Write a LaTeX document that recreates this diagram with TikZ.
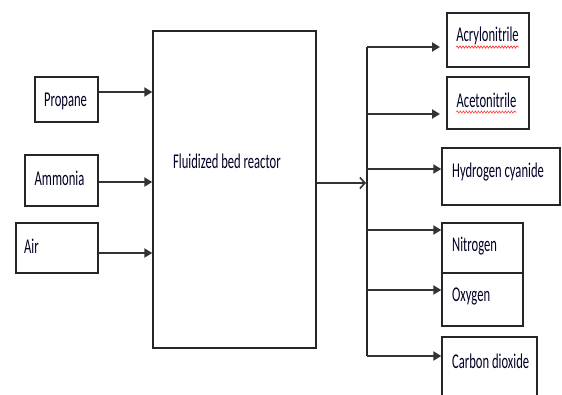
\documentclass[tikz,border=0pt]{standalone}
\usepackage{fontspec}
\newfontfamily\lab[FakeStretch=0.6]{Carlito}
\usetikzlibrary{arrows.meta,decorations.pathmorphing}
\tikzset{
  box/.style={draw=black!85, line width=1.4pt, inner sep=0pt, fill=white},
  txt/.style={inner sep=0pt, font=\lab\fontsize{21}{23}\selectfont, text=black!85!blue},
  arr/.style={draw=black!80, line width=2.6pt, -{Triangle[length=8pt,width=9pt]}},
  openarr/.style={draw=black!80, line width=1.6pt, -{Straight Barb[length=5pt,width=11pt,line width=1.6pt]}},
  bus/.style={draw=black!85, line width=1.6pt},
  squig/.style={draw=red!80, line width=0.6pt, decorate, decoration={snake, amplitude=1.1pt, segment length=3pt}}
}
\begin{document}
\begin{tikzpicture}[x=1pt,y=-1pt]
\useasboundingbox (0,0) rectangle (562,394);
\fill[white] (0,0) rectangle (562,394);
% input boxes
\node[box, minimum width=63pt, minimum height=45pt] (propane) at (66.5,99.5) {};
\node[box, minimum width=73pt, minimum height=51pt] (ammonia) at (61.5,180.5) {};
\node[box, minimum width=82pt, minimum height=50pt] (air) at (57,248) {};
\node[txt] (tpropane) at (65.5,101) {Propane};
\node[txt] (tammonia) at (59.5,178) {Ammonia};
\node[txt, anchor=west] (tair) at (24,246) {Air};
% reactor
\node[box, minimum width=163pt, minimum height=317pt] (reactor) at (234.5,189.5) {};
\node[txt, anchor=west] (treactor) at (173,161) {Fluidized bed reactor};
% input arrows
\draw[arr] (propane.east |- 0,92) -- (reactor.west |- 0,92);
\draw[arr] (ammonia.east |- 0,182) -- (reactor.west |- 0,182);
\draw[arr] (air.east |- 0,253) -- (reactor.west |- 0,253);
% output
\coordinate (bustop) at (367,47);
\coordinate (busbot) at (367,356);
\coordinate (busin) at (366,183);
\draw[openarr] (reactor.east |- 0,183) -- (busin);
\draw[bus] (bustop) -- (busbot);
% output boxes
\node[box, minimum width=82pt, minimum height=54pt] (acryl) at (488,40) {};
\node[box, minimum width=82pt, minimum height=52pt] (aceto) at (488,103) {};
\node[box, minimum width=118pt, minimum height=57pt] (hcn) at (501,176.5) {};
\node[box, minimum width=81pt, minimum height=50pt] (nitro) at (482.5,248) {};
\node[box, minimum width=81pt, minimum height=53pt] (oxy) at (482.5,299.5) {};
\node[box, minimum width=95pt, minimum height=70pt] (co2) at (489.5,372) {};
\node[txt] (tacryl) at (487.5,36) {Acrylonitrile};
\node[txt] (taceto) at (486.5,100) {Acetonitrile};
\node[txt, anchor=west] (thcn) at (452,172) {Hydrogen cyanide};
\node[txt, anchor=west] (tnitro) at (452,246) {Nitrogen};
\node[txt, anchor=west] (toxy) at (452,296) {Oxygen};
\node[txt, anchor=west] (tco2) at (452,361) {Carbon dioxide};
\draw[squig] (tacryl.south west |- 0,47) -- (tacryl.south east |- 0,47);
\draw[squig] (taceto.south west |- 0,112) -- (taceto.south east |- 0,112);
% branch arrows
\coordinate (acrylend) at (440,47);
\coordinate (acetoend) at (440,114);
\draw[arr] (bustop) -- (acrylend);
\draw[arr] (bustop |- acetoend) -- (acetoend);
\draw[arr] (bustop |- 0,169) -- (hcn.west |- 0,169);
\draw[arr] (bustop |- 0,230) -- (nitro.west |- 0,230);
\draw[arr] (bustop |- 0,290) -- (oxy.west |- 0,290);
\draw[arr] (busbot) -- (co2.west |- busbot);
\end{tikzpicture}
\end{document}
